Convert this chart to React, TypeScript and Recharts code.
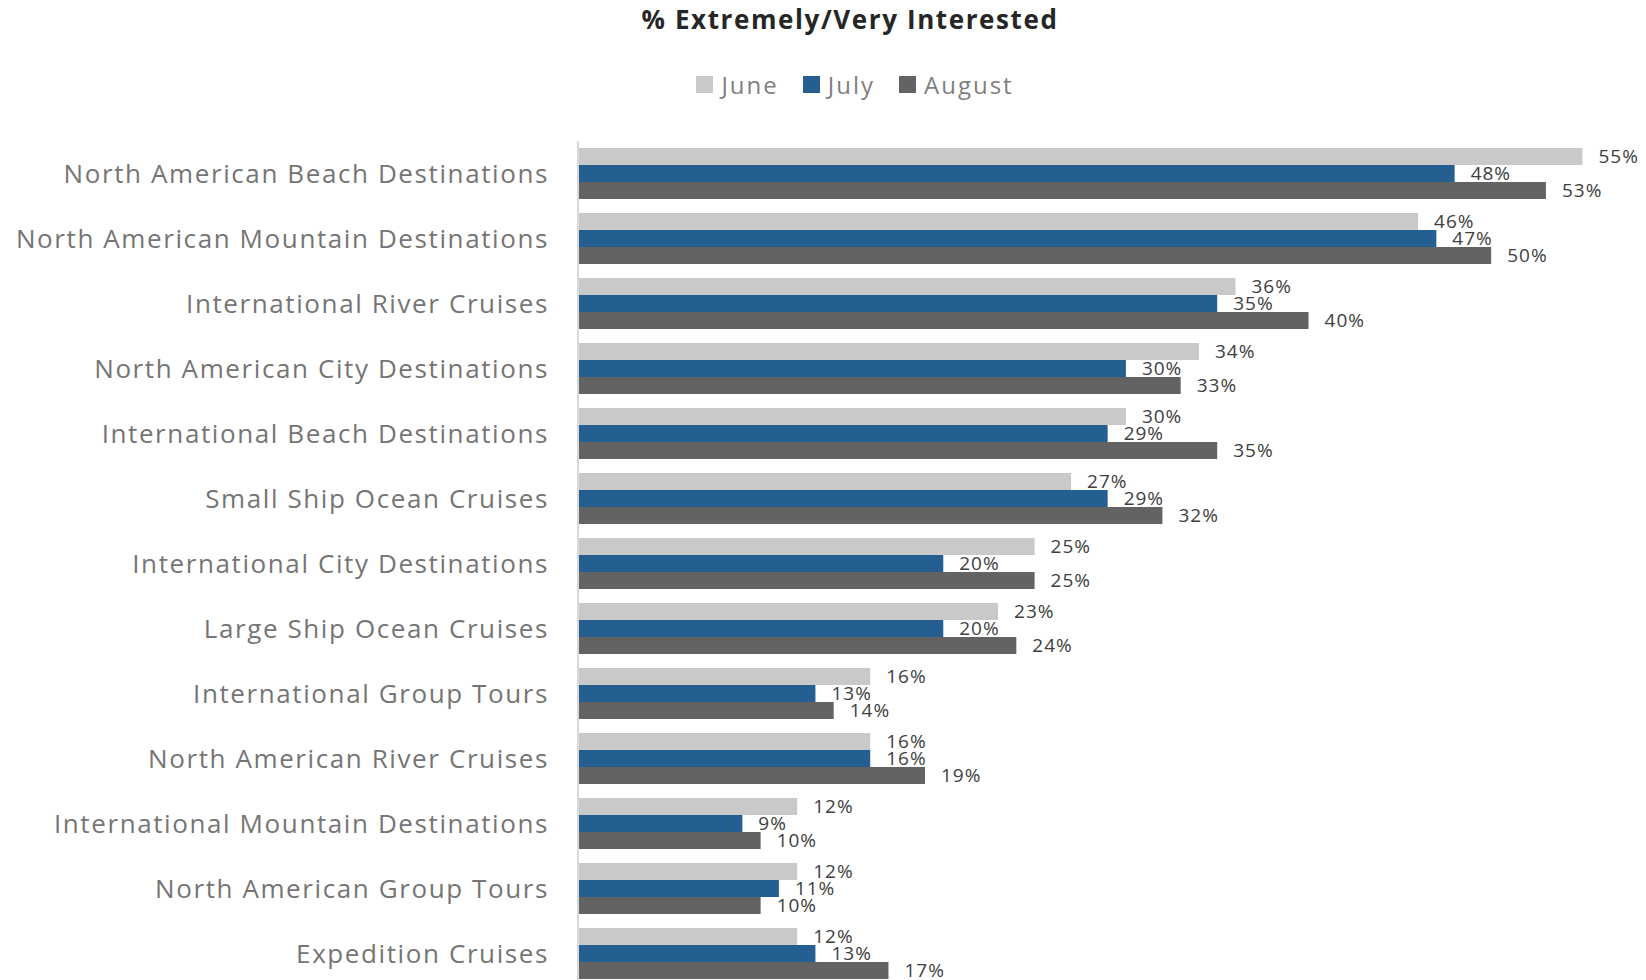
import React from 'react';
import { BarChart, Bar, XAxis, YAxis, Legend, LabelList } from 'recharts';

const categories = [
  'North American Beach Destinations',
  'North American Mountain Destinations',
  'International River Cruises',
  'North American City Destinations',
  'International Beach Destinations',
  'Small Ship Ocean Cruises',
  'International City Destinations',
  'Large Ship Ocean Cruises',
  'International Group Tours',
  'North American River Cruises',
  'International Mountain Destinations',
  'North American Group Tours',
  'Expedition Cruises',
];
const seriesNames = ['June', 'July', 'August'];
const june = [55, 46, 36, 34, 30, 27, 25, 23, 16, 16, 12, 12, 12];
const july = [48, 47, 35, 30, 29, 29, 20, 20, 13, 16, 9, 11, 13];
const august = [53, 50, 40, 33, 35, 32, 25, 24, 14, 19, 10, 10, 17];

const chartData = categories.map((name, i) => ({
  name,
  june: june[i],
  july: july[i],
  august: august[i],
}));

const FONT = '"Open Sans", sans-serif';

// legend keeps June, July, August order (vertical layout reverses it by default)
const renderLegend = (props: any) => {
  const items = [...(props.payload || [])].sort(
    (a: any, b: any) => seriesNames.indexOf(a.value) - seriesNames.indexOf(b.value),
  );
  return (
    <div style={{ display: 'flex', justifyContent: 'center', fontFamily: FONT }}>
      {items.map((entry: any) => (
        <div
          key={entry.value}
          style={{ display: 'flex', alignItems: 'center', margin: '0 12px' }}
        >
          <span
            style={{
              display: 'inline-block',
              width: 17,
              height: 17,
              background: entry.color,
              marginRight: 8,
            }}
          />
          <span style={{ fontSize: 24, color: '#7f7f7f', letterSpacing: 2 }}>
            {entry.value}
          </span>
        </div>
      ))}
    </div>
  );
};

const pct = (v: any) => `${v}%`;
const labelStyle = { fontSize: 19, fill: '#404040', fontFamily: FONT, letterSpacing: 1 };

export default function App() {
  return (
    <div
      style={{
        position: 'fixed',
        left: 0,
        top: 0,
        width: 1646,
        height: 980,
        overflow: 'hidden',
        background: '#fff',
      }}
    >
      <div
        style={{
          position: 'absolute',
          top: 2,
          left: 0,
          width: 1700,
          textAlign: 'center',
          fontFamily: FONT,
          fontWeight: 700,
          fontSize: 26,
          letterSpacing: 1.6,
          lineHeight: '34px',
          color: '#262626',
        }}
      >
        % Extremely/Very Interested
      </div>
      <BarChart
        width={1646}
        height={986}
        data={chartData}
        layout="vertical"
        margin={{ top: 141, right: 27, bottom: 0, left: 0 }}
        barGap={0}
      >
        <XAxis type="number" domain={[0, 57]} hide />
        <YAxis
          type="category"
          dataKey="name"
          width={578}
          interval={0}
          tickLine={false}
          tickSize={0}
          tickMargin={29}
          axisLine={{ stroke: '#d9d9d9', strokeWidth: 2 }}
          tick={{ fontSize: 26, fill: '#757575', fontFamily: FONT, letterSpacing: 1.6 }}
        />
        <Legend
          layout="horizontal"
          verticalAlign="middle"
          align="center"
          content={renderLegend}
          wrapperStyle={{ top: 68, left: 0, width: 1710 }}
        />
        <Bar dataKey="june" name="June" fill="#c9c9c9" barSize={17} isAnimationActive={false}>
          <LabelList dataKey="june" position="right" offset={16} formatter={pct} style={labelStyle} />
        </Bar>
        <Bar dataKey="july" name="July" fill="#255e91" barSize={17} isAnimationActive={false}>
          <LabelList dataKey="july" position="right" offset={16} formatter={pct} style={labelStyle} />
        </Bar>
        <Bar dataKey="august" name="August" fill="#636363" barSize={17} isAnimationActive={false}>
          <LabelList dataKey="august" position="right" offset={16} formatter={pct} style={labelStyle} />
        </Bar>
      </BarChart>
    </div>
  );
}
